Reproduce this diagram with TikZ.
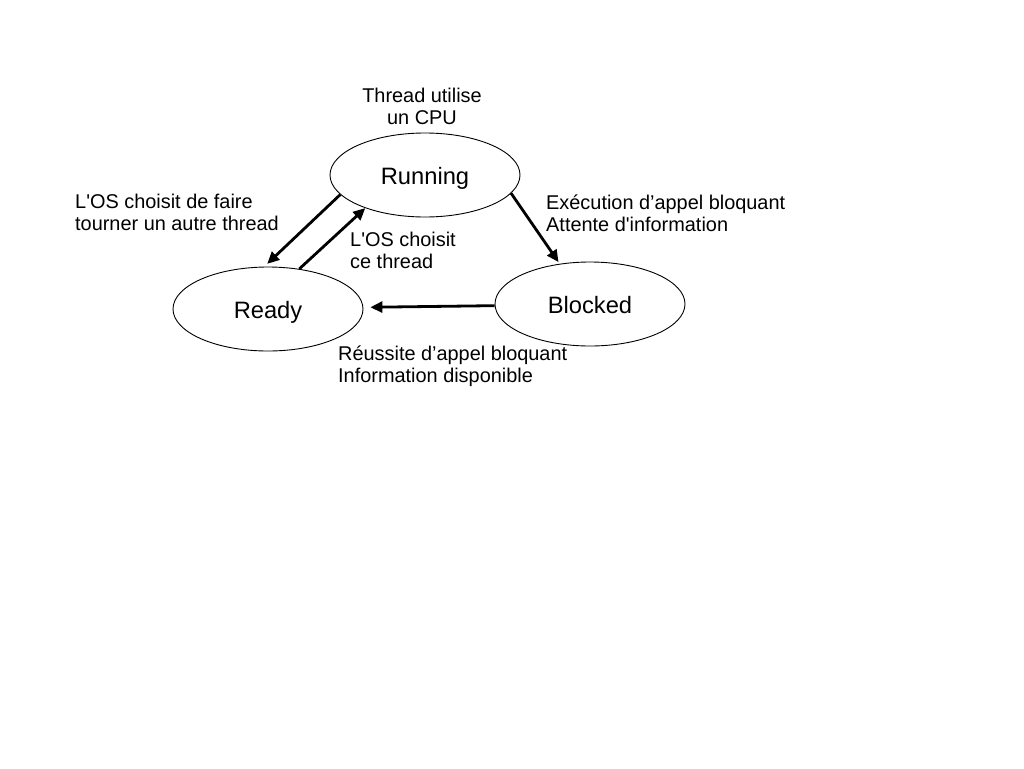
\documentclass[tikz,border=0pt]{standalone}
\usepackage{fontspec}
\setmainfont{Liberation Sans}[Ligatures=TeXOff]
\usetikzlibrary{shapes.geometric,arrows.meta}
\begin{document}
\begin{tikzpicture}[x=1pt,y=-1pt,
  state/.style={draw,ellipse,line width=0.9pt,minimum width=190pt,minimum height=84pt,inner sep=0pt,text height=18pt,text depth=0pt,font=\fontsize{23.7}{26}\selectfont},
  lab/.style={inner sep=0pt,align=left,font=\fontsize{19.9}{21.5}\selectfont},
  arr/.style={line width=2.8pt,-{Triangle[length=12pt,width=11pt]}}]
\useasboundingbox (0,0) rectangle (1024,768);
\node[state] (run) at (425,175) {Running};
\node[state] (ready) at (268,309) {Ready};
\node[state] (blocked) at (590,304) {Blocked};
\node[lab,align=center] (lcpu) at (422,106.5) {Thread utilise\\un CPU};
\node[lab,anchor=west] (lother) at (75,212.5) {L'OS choisit de faire\\tourner un autre thread};
\node[lab,anchor=west] (lthis) at (350,250.5) {L'OS choisit\\ce thread};
\node[lab,anchor=west] (lexec) at (546,213.5) {Exécution d’appel bloquant\\Attente d'information};
\node[lab,anchor=west] (lok) at (338,366) {Réussite d’appel bloquant\\Information disponible};
\draw[arr,shorten >=4pt] (run.193) -- (ready.95);
\draw[arr] (ready.52) -- (run.209);
\draw[arr,shorten >=2pt] (run.348) -- (blocked.127);
\draw[arr,shorten >=7pt] (blocked.181) -- (ready.1);
\end{tikzpicture}
\end{document}
